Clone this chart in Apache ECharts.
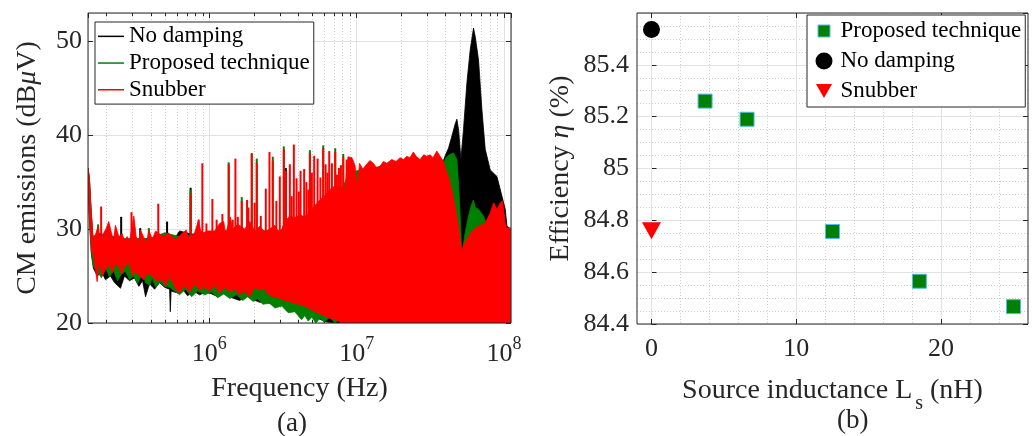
<!DOCTYPE html>
<html><head><meta charset="utf-8">
<script src="https://cdn.jsdelivr.net/npm/echarts@6/dist/echarts.min.js"></script>
<style>html,body{margin:0;padding:0;background:#fff}#c{width:1034px;height:436px}</style>
</head><body><div id="c"></div>
<script>
// ---------------- DATA: (a) CM emission spectra, [frequency Hz, dBuV] ----------------
const seriesNames = ['No damping', 'Proposed technique', 'Snubber'];

const redUpper = [[1.50e5,36.5],[1.53e5,35.6],[1.57e5,32.5],[1.62e5,29.2],[1.685e5,29.4],[1.758e5,30.3],[1.807e5,29.0],[1.919e5,29.6],[1.986e5,30.0],[2.075e5,30.8],[2.164e5,29.6],[2.234e5,28.8],[2.305e5,30.4],[2.427e5,29.2],[2.559e5,29.5],[2.653e5,28.7],[2.768e5,29.2],[2.869e5,28.6],[3.069e5,31.4],[3.187e5,29.2],[3.304e5,28.4],[3.409e5,29.9],[3.590e5,29.1],[3.746e5,28.5],[3.883e5,29.9],[4.096e5,28.9],[4.313e5,29.8],[4.664e5,29.4],[4.912e5,29.2],[5.261e5,29.6],[5.656e5,29.1],[5.964e5,28.9],[6.281e5,29.3],[6.614e5,29.6],[6.975e5,29.9],[7.230e5,29.0],[7.943e5,29.6],[8.457e5,31.0],[8.726e5,29.8],[9.046e5,29.6],[9.783e5,29.8],[1.087e6,29.8],[1.175e6,30.6],[1.251e6,30.8],[1.291e6,29.5],[1.389e6,31.3],[1.440e6,30.0],[1.558e6,30.5],[1.738e6,30.0],[1.880e6,30.8],[2.033e6,29.8],[2.198e6,30.3],[2.378e6,29.7],[2.571e6,30.0],[2.782e6,30.4],[3.007e6,29.5],[3.252e6,30.8],[3.518e6,31.4],[3.805e6,31.2],[4.115e6,31.5],[4.449e6,31.3],[4.813e6,31.7],[5.204e6,32.5],[5.629e6,33.1],[6.087e6,33.6],[6.583e6,34.2],[7.118e6,34.6],[7.698e6,34.5],[8.325e6,34.2],[8.726e6,37.7],[9.290e6,37.6],[9.736e6,36.8],[1.013e7,34.5],[1.045e7,37.0],[1.10e7,36.4],[1.17e7,36.9],[1.23e7,37.3],[1.297e7,37.0],[1.37e7,36.5],[1.44e7,36.7],[1.52e7,37.2],[1.60e7,37.0],[1.73e7,37.4],[1.85e7,37.2],[1.971e7,37.6],[2.08e7,37.4],[2.188e7,37.75],[2.30e7,37.6],[2.427e7,38.2],[2.55e7,37.7],[2.695e7,37.4],[2.85e7,37.9],[2.993e7,37.75],[3.152e7,37.9],[3.30e7,37.6],[3.501e7,38.3],[3.688e7,37.75],[3.883e7,37.2],[4.031e7,36.3],[4.200e7,35.6],[4.429e7,34.2],[4.664e7,32.4],[4.912e7,30.3],[5.067e7,28.5],[5.180e7,27.5],[5.311e7,28.3],[5.603e7,28.9],[6.058e7,29.8],[6.719e7,30.3],[7.460e7,30.65],[8.068e7,31.7],[8.498e7,32.8],[8.961e7,32.1],[9.437e7,32.8],[9.783e7,33.0],[1.0205e8,30.65],[1.048e8,30.1],[1.116e8,30.1]];

const redLower = [[1.50e5,35.5],[1.534e5,31.5],[1.582e5,27.8],[1.633e5,27.2],[1.730e5,24.4],[1.793e5,26.5],[1.880e5,25.0],[1.971e5,25.7],[2.098e5,26.2],[2.188e5,25.3],[2.305e5,26.3],[2.427e5,26.0],[2.531e5,25.2],[2.653e5,26.0],[2.838e5,26.4],[3.007e5,25.0],[3.152e5,25.5],[3.356e5,25.0],[3.590e5,24.6],[3.805e5,25.3],[4.096e5,25.0],[4.381e5,24.5],[4.790e5,24.6],[5.043e5,23.9],[5.286e5,24.8],[5.603e5,24.4],[5.899e5,23.6],[6.281e5,23.2],[6.792e5,24.0],[7.345e5,23.3],[7.943e5,24.1],[8.590e5,23.5],[9.290e5,23.8],[1.005e6,23.4],[1.087e6,24.0],[1.175e6,23.2],[1.271e6,23.8],[1.374e6,23.3],[1.486e6,23.6],[1.607e6,23.0],[1.738e6,23.4],[1.880e6,22.8],[2.033e6,23.8],[2.198e6,23.5],[2.378e6,23.6],[2.571e6,22.9],[2.782e6,22.8],[3.007e6,22.6],[3.426e6,22.3],[3.805e6,22.1],[4.449e6,21.8],[5.043e6,21.3],[5.780e6,20.9],[6.583e6,20.5],[7.118e6,20.4],[7.907e6,20.0],[1.116e8,20.0]];

const redSpikes = [[1.842e5,32.4],[2.960e5,31.8],[4.499e5,32.7],[7.460e5,33.8],[8.457e5,31.0],[8.961e5,37.0],[9.55e5,30.6],[1.048e6,33.2],[1.12e6,31.0],[1.226e6,31.6],[1.353e6,36.9],[1.44e6,31.0],[1.503e6,37.5],[1.56e6,31.3],[1.659e6,33.0],[1.802e6,33.1],[1.84e6,32.3],[1.940e6,38.0],[2.03e6,32.8],[2.098e6,37.1],[2.234e6,31.4],[2.416e6,34.3],[2.559e6,38.2],[2.695e6,37.3],[2.85e6,33.0],[3.007e6,35.6],[3.202e6,38.5],[3.304e6,36.2],[3.518e6,36.9],[3.62e6,33.5],[3.746e6,39.0],[3.907e6,35.4],[4.05e6,34.0],[4.159e6,36.2],[4.400e6,36.4],[4.555e6,35.0],[4.70e6,34.2],[4.813e6,38.1],[4.965e6,36.0],[5.147e6,37.8],[5.429e6,37.5],[5.673e6,35.5],[5.927e6,38.6],[6.153e6,36.9],[6.331e6,36.0],[6.511e6,38.3],[6.792e6,37.0],[7.151e6,38.2],[7.345e6,35.8],[7.578e6,36.5],[7.819e6,36.8],[8.106e6,37.7],[8.551e6,37.4]];

const greenUpper = [[1.50e5,36.3],[1.534e5,35.3],[1.57e5,32.2],[1.62e5,29.0],[1.80e5,29.2],[2.42e5,29.0],[3.95e5,29.0],[4.965e5,29.6],[6.281e5,29.2],[8.590e5,29.4],[1.607e6,29.5],[3.007e6,29.8],[4.115e6,31.0],[5.629e6,32.5],[7.698e6,34.0],[9.004e6,36.0],[1.053e7,36.3],[1.971e7,37.0],[3.688e7,37.2],[3.883e7,37.0],[4.031e7,37.6],[4.246e7,37.9],[4.540e7,38.1],[4.790e7,37.4],[4.912e7,34.9],[5.043e7,31.4],[5.180e7,27.1],[5.395e7,29.2],[5.745e7,31.4],[5.993e7,32.5],[6.212e7,33.1],[6.380e7,32.3],[6.719e7,32.1],[7.264e7,31.4],[7.578e7,30.6],[8.068e7,30.5],[1.116e8,29.5]];

const greenLower = [[1.50e5,35.0],[1.534e5,31.0],[1.582e5,27.5],[1.633e5,26.0],[1.738e5,25.5],[1.851e5,24.8],[1.971e5,25.9],[2.098e5,24.9],[2.234e5,25.6],[2.378e5,24.5],[2.531e5,25.2],[2.695e5,25.5],[2.869e5,24.6],[3.055e5,25.0],[3.252e5,24.2],[3.501e5,25.3],[3.688e5,24.3],[3.926e5,24.0],[4.096e5,24.8],[4.313e5,23.8],[4.591e5,24.4],[4.965e5,23.9],[5.370e5,23.8],[5.807e5,23.4],[6.281e5,23.0],[6.900e5,23.6],[7.578e5,22.8],[8.325e5,23.4],[9.290e5,23.0],[1.037e6,23.3],[1.139e6,22.7],[1.251e6,23.1],[1.374e6,22.6],[1.527e6,23.0],[1.685e6,22.4],[1.822e6,22.8],[1.980e6,22.3],[2.131e6,22.6],[2.305e6,22.0],[2.571e6,22.1],[2.782e6,21.6],[3.103e6,21.8],[3.426e6,21.1],[3.805e6,21.2],[4.225e6,20.35],[4.449e6,20.8],[4.686e6,20.2],[4.965e6,20.6],[5.286e6,20.0],[5.629e6,20.5],[5.993e6,20.1],[6.583e6,20.6],[7.118e6,20.0],[7.698e6,20.4],[8.325e6,20.0],[9.004e6,20.5],[9.736e6,20.1],[1.053e7,20.3],[1.139e7,20.0],[1.116e8,20.0]];

const greenSpikes = [[1.758e5,30.5],[3.883e5,30.1],[7.460e5,34.2],[1.353e6,37.1],[1.659e6,33.4],[1.940e6,38.1],[2.098e6,37.5],[2.695e6,37.7],[3.202e6,38.8],[4.813e6,38.4],[5.927e6,38.9],[7.151e6,38.6],[8.106e6,38.0]];

const blackUpper = [[1.50e5,36.5],[1.534e5,35.4],[1.57e5,32.3],[1.62e5,29.0],[1.793e5,29.5],[2.098e5,29.3],[2.653e5,28.8],[3.926e5,29.0],[5.807e5,29.0],[6.281e5,29.8],[7.345e5,29.5],[8.590e5,29.4],[1.175e6,29.8],[1.880e6,29.8],[3.007e6,29.8],[4.115e6,30.8],[5.629e6,32.3],[7.698e6,33.8],[9.004e6,35.8],[1.053e7,36.0],[1.971e7,36.8],[2.695e7,36.8],[3.688e7,37.2],[3.883e7,37.3],[3.988e7,37.8],[4.200e7,38.6],[4.449e7,40.0],[4.664e7,41.2],[4.790e7,41.7],[4.927e7,40.5],[5.099e7,37.4],[5.311e7,40.6],[5.603e7,45.6],[5.899e7,49.1],[6.212e7,51.4],[6.380e7,50.5],[6.719e7,48.0],[7.084e7,42.7],[7.460e7,38.5],[8.068e7,36.3],[8.961e7,35.6],[9.692e7,33.5],[1.0205e8,32.1],[1.048e8,30.3],[1.116e8,30.0]];

const blackLower = [[1.50e5,35.0],[1.534e5,31.0],[1.582e5,27.3],[1.633e5,25.8],[1.738e5,25.0],[1.851e5,25.5],[1.971e5,24.6],[2.131e5,25.0],[2.269e5,24.3],[2.492e5,23.7],[2.653e5,25.0],[2.869e5,24.5],[3.103e5,24.8],[3.319e5,23.9],[3.518e5,24.5],[3.688e5,22.8],[3.926e5,24.2],[4.246e5,23.6],[4.591e5,24.3],[4.965e5,23.8],[5.37e5,23.6],[5.429e5,21.2],[5.50e5,23.4],[6.087e5,23.2],[6.583e5,23.6],[7.118e5,22.9],[7.819e5,23.4],[8.590e5,23.0],[9.437e5,23.3],[1.037e6,23.1],[1.139e6,22.8],[1.271e6,23.2],[1.418e6,22.7],[1.607e6,22.4],[1.793e6,22.9],[1.971e6,22.5],[2.198e6,22.2],[2.442e6,22.3],[2.695e6,21.9],[3.007e6,22.2],[3.341e6,21.8],[3.688e6,21.6],[4.115e6,21.0],[4.686e6,21.1],[5.204e6,20.6],[5.629e6,20.4],[6.281e6,20.1],[7.118e6,20.0],[1.116e8,20.0]];

const blackSpikes = [[2.519e5,31.3],[3.393e5,30.1],[5.163e5,30.8],[7.460e5,34.4],[3.304e6,36.5]];

// ---------------- DATA: (b) efficiency vs source inductance ----------------
const proposedLs  = [3.7, 6.6, 12.5, 18.5, 25.0];
const proposedEff = [85.26, 85.19, 84.757, 84.565, 84.467];
const noDampLs = [0];   const noDampEff = [85.536];
const snubberLs = [0];  const snubberEff = [84.76];

// ---------------- axis ticks / labels ----------------
const specYTicks = [20, 30, 40, 50];
const effXLabels = [0, 10, 20];
const effXMinor = [2, 4, 6, 8, 12, 14, 16, 18, 22, 24];

// ---------------- chart ----------------
const F = 'Liberation Serif';
const TXT = '#262626';
const GRIDC = '#e2e2e2';
const MINC = '#cdcdcd';
const COL = { 'No damping': '#000000', 'Proposed technique': '#008000', 'Snubber': '#ff0000' };
const X_MIN = 1.5e5, X_MAX = 1.116e8;
const SPIKE_BASE = 27;

const minorF = [];
[1e5, 1e6, 1e7].forEach(d => { for (let m = 2; m <= 9; m++) { const f = m * d; if (f > X_MIN && f < X_MAX) minorF.push(f); } });

function polySeries(name, upper, lower) {
  const pts = upper.concat(lower.slice().reverse());
  const color = COL[name];
  return {
    type: 'custom', name, xAxisIndex: 0, yAxisIndex: 0, z: 2, clip: true, silent: true,
    itemStyle: { color }, encode: { x: 0, y: 1 }, data: pts,
    renderItem: (params, api) => {
      if (params.dataIndex !== 0) return null;
      return { type: 'polygon', shape: { points: pts.map(p => api.coord(p)) },
               style: { fill: color, stroke: color, lineWidth: 0.8 } };
    }
  };
}
function spikeSeries(name, spikes) {
  const color = COL[name];
  return {
    type: 'custom', name, xAxisIndex: 0, yAxisIndex: 0, z: 2, clip: true, silent: true,
    itemStyle: { color }, encode: { x: 0, y: 1 }, data: spikes,
    renderItem: (params, api) => {
      const top = api.coord([api.value(0), api.value(1)]);
      const bot = api.coord([api.value(0), SPIKE_BASE]);
      return { type: 'line', shape: { x1: top[0], y1: top[1], x2: bot[0], y2: bot[1] },
               style: { stroke: color, lineWidth: 2 } };
    }
  };
}
function vGrid(xi, yi, values, yRef, dotted, tickLen) {
  return {
    type: 'custom', xAxisIndex: xi, yAxisIndex: yi, z: 1, silent: true, clip: false,
    encode: { x: 0, y: 1 }, data: values.map(v => [v, yRef]),
    renderItem: (params, api) => {
      const cs = params.coordSys;
      const x = Math.round(api.coord([api.value(0), yRef])[0]) + 0.5;
      const ch = [{ type: 'line', shape: { x1: x, y1: cs.y, x2: x, y2: cs.y + cs.height },
        style: dotted ? { stroke: MINC, lineWidth: 1, lineDash: [1, 2] } : { stroke: GRIDC, lineWidth: 1 } }];
      if (tickLen) {
        ch.push({ type: 'line', shape: { x1: x, y1: cs.y + cs.height, x2: x, y2: cs.y + cs.height - tickLen }, style: { stroke: TXT, lineWidth: 1 } });
        ch.push({ type: 'line', shape: { x1: x, y1: cs.y, x2: x, y2: cs.y + tickLen }, style: { stroke: TXT, lineWidth: 1 } });
      }
      return { type: 'group', children: ch };
    }
  };
}

const tickFont = { fontFamily: F, fontSize: 26, color: TXT };
const nameFont = { fontFamily: F, fontSize: 28, color: TXT };

const option = {
  animation: false,
  backgroundColor: '#ffffff',
  grid: [
    { left: 88, top: 13, width: 423, height: 310, show: true, z: 10, borderColor: TXT, borderWidth: 1, backgroundColor: 'rgba(0,0,0,0)' },
    { left: 637, top: 13, width: 391, height: 311, show: true, z: 10, borderColor: TXT, borderWidth: 1, backgroundColor: 'rgba(0,0,0,0)' }
  ],
  xAxis: [
    { gridIndex: 0, type: 'log', logBase: 10, min: X_MIN, max: X_MAX,
      axisLine: { show: false }, axisTick: { show: true, inside: true, length: 5, lineStyle: { color: TXT } },
      splitLine: { show: true, lineStyle: { color: GRIDC, width: 1 } },
      axisLabel: { margin: 12, showMinLabel: false, showMaxLabel: false,
        formatter: v => { const l = Math.log10(v), e = Math.round(l); return Math.abs(l - e) < 1e-6 ? '{b|10}{e|' + e + '}' : ''; },
        rich: { b: { fontFamily: F, fontSize: 26, color: TXT, padding: [6, 0, 0, 0], verticalAlign: 'bottom' },
                e: { fontFamily: F, fontSize: 18, color: TXT, verticalAlign: 'top' } } },
      name: 'Frequency (Hz)', nameLocation: 'middle', nameGap: 52, nameTextStyle: nameFont },
    { gridIndex: 0, type: 'log', logBase: 10, min: X_MIN, max: X_MAX, position: 'top',
      axisLine: { show: false }, axisTick: { show: true, inside: true, length: 5, lineStyle: { color: TXT } },
      splitLine: { show: false }, axisLabel: { show: false } },
    { gridIndex: 1, type: 'value', min: -1, max: 26, interval: 1,
      axisLine: { show: false }, axisTick: { show: false }, splitLine: { show: false },
      axisLabel: { margin: 12, ...tickFont, formatter: v => (effXLabels.indexOf(v) >= 0 ? String(v) : '') },
      name: 'Source inductance L{s|s} (nH)', nameLocation: 'middle', nameGap: 44,
      nameTextStyle: { ...nameFont, rich: { s: { fontFamily: F, fontSize: 20, color: TXT, padding: [26, 0, 0, 3] } } } }
  ],
  yAxis: [
    { gridIndex: 0, type: 'value', min: 20, max: 53, interval: 10,
      axisLine: { show: false }, axisTick: { show: true, inside: true, length: 5, lineStyle: { color: TXT } },
      splitLine: { show: true, lineStyle: { color: GRIDC, width: 1 } },
      axisLabel: { margin: 6, showMaxLabel: false, ...tickFont, formatter: v => (specYTicks.indexOf(v) >= 0 ? String(v) : '') },
      name: 'CM emissions (dB{i|μ}V)', nameLocation: 'middle', nameGap: 46,
      nameTextStyle: { ...nameFont, rich: { i: { fontFamily: F, fontSize: 28, fontStyle: 'italic', color: TXT } } } },
    { gridIndex: 0, type: 'value', min: 20, max: 53, interval: 10, position: 'right',
      axisLine: { show: false }, axisTick: { show: true, inside: true, length: 5, lineStyle: { color: TXT } },
      splitLine: { show: false }, axisLabel: { show: false } },
    { gridIndex: 1, type: 'value', min: 84.4, max: 85.6, interval: 0.2,
      axisLine: { show: false }, axisTick: { show: true, inside: true, length: 5, lineStyle: { color: TXT } },
      splitLine: { show: true, lineStyle: { color: GRIDC, width: 1 } },
      minorTick: { show: false, splitNumber: 4 },
      minorSplitLine: { show: true, lineStyle: { color: MINC, width: 1, type: [1, 2] } },
      axisLabel: { margin: 8, showMaxLabel: false, ...tickFont },
      name: 'Efficiency {i|η} (%)', nameLocation: 'middle', nameGap: 62,
      nameTextStyle: { ...nameFont, rich: { i: { fontFamily: F, fontSize: 28, fontStyle: 'italic', color: TXT } } } },
    { gridIndex: 1, type: 'value', min: 84.4, max: 85.6, interval: 0.2, position: 'right',
      axisLine: { show: false }, axisTick: { show: true, inside: true, length: 5, lineStyle: { color: TXT } },
      splitLine: { show: false }, axisLabel: { show: false } }
  ],
  legend: [
    { data: seriesNames.map(n => ({ name: n, icon: 'rect' })),
      orient: 'vertical', left: 95, top: 22, itemWidth: 26, itemHeight: 1.5, itemGap: 0,
      padding: [1, 4, 1, 3], borderColor: TXT, borderWidth: 1, backgroundColor: '#ffffff',
      selectedMode: false, textStyle: { fontFamily: F, fontSize: 23, color: '#000', lineHeight: 26.7 } },
    { data: [
        { name: 'Proposed technique', icon: 'path://M0,0M17,17M2.5,2.5L14.5,2.5L14.5,14.5L2.5,14.5Z', itemStyle: { color: '#008000', borderColor: '#4dbeee', borderWidth: 1 } },
        { name: 'No damping', icon: 'circle', itemStyle: { color: '#000000' } },
        { name: 'Snubber', icon: 'path://M0,0M17,17M0.5,1.5L16.5,1.5L8.5,15.5Z', itemStyle: { color: '#ff0000' } } ],
      orient: 'vertical', left: 807, top: 15, itemWidth: 17, itemHeight: 17, itemGap: 0,
      padding: [1, 4, 1, 8], borderColor: TXT, borderWidth: 1, backgroundColor: '#ffffff',
      selectedMode: false, textStyle: { fontFamily: F, fontSize: 23, color: '#000', lineHeight: 30, padding: [0, 0, 0, 3] } }
  ],
  graphic: [
    { type: 'text', left: 277, top: 410, style: { text: '(a)', font: '27px "Liberation Serif"', fill: TXT } },
    { type: 'text', left: 837, top: 407, style: { text: '(b)', font: '27px "Liberation Serif"', fill: TXT } }
  ],
  series: [
    polySeries('No damping', blackUpper, blackLower),
    spikeSeries('No damping', blackSpikes),
    polySeries('Proposed technique', greenUpper, greenLower),
    spikeSeries('Proposed technique', greenSpikes),
    polySeries('Snubber', redUpper, redLower),
    spikeSeries('Snubber', redSpikes),
    vGrid(0, 0, minorF, 30, true, 3),
    vGrid(2, 2, effXLabels, 85, false, 5),
    vGrid(2, 2, effXMinor, 85, true, 0),
    { type: 'scatter', name: 'Proposed technique', xAxisIndex: 2, yAxisIndex: 2, z: 3,
      symbol: 'rect', symbolSize: 14, itemStyle: { color: '#008000', borderColor: '#4dbeee', borderWidth: 1, opacity: 1 },
      data: proposedLs.map((x, i) => [x, proposedEff[i]]) },
    { type: 'scatter', name: 'No damping', xAxisIndex: 2, yAxisIndex: 2, z: 3,
      symbol: 'circle', symbolSize: 17, itemStyle: { color: '#000000', opacity: 1 },
      data: noDampLs.map((x, i) => [x, noDampEff[i]]) },
    { type: 'scatter', name: 'Snubber', xAxisIndex: 2, yAxisIndex: 2, z: 3,
      symbol: 'path://M0,0L20,0L10,17Z', symbolSize: [19, 17], itemStyle: { color: '#ff0000', opacity: 1 },
      data: snubberLs.map((x, i) => [x, snubberEff[i]]) }
  ]
};

const chart = echarts.init(document.getElementById('c'), null, { renderer: 'canvas' });
chart.setOption(option);
</script></body></html>
